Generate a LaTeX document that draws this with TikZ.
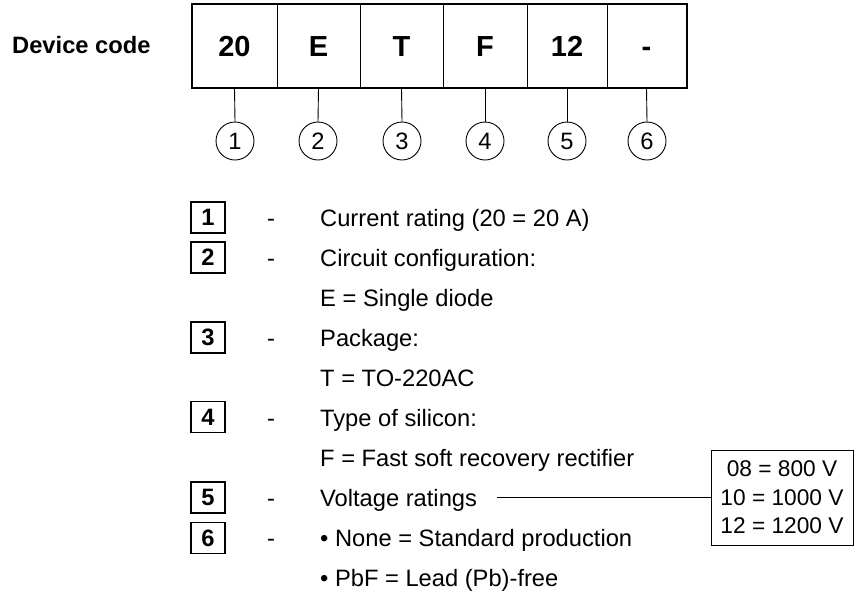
\documentclass[tikz,border=0pt]{standalone}
\usepackage{fontspec}
\setmainfont{Liberation Sans}
\begin{document}
\begin{tikzpicture}[x=1pt,y=-1pt,
  cell/.style={draw,line width=1pt,minimum height=83pt,inner sep=0pt,text height=21pt,text depth=0pt,font=\fontsize{29}{34}\selectfont\bfseries},
  circ/.style={draw,circle,line width=0.9pt,minimum size=38pt,inner sep=0pt,font=\fontsize{23.7}{28}\selectfont},
  numbox/.style={draw,line width=1.7pt,minimum width=34pt,minimum height=31pt,inner sep=0pt,font=\fontsize{23.7}{28}\selectfont\bfseries},
  txt/.style={anchor=base west,inner sep=0pt,font=\fontsize{23.7}{28}\selectfont},
  dashtxt/.style={anchor=base,inner sep=0pt,font=\fontsize{23.7}{28}\selectfont},
  stem/.style={line width=0.9pt}]
\useasboundingbox (0,0) rectangle (867,603);
% device code label
\node[anchor=west,inner sep=0pt,font=\fontsize{23.7}{28}\selectfont\bfseries] (lbl) at (12,45) {Device code};
% cells
\node[cell,minimum width=85pt] (c1) at (234.5,45.5) {20};
\node[cell,minimum width=83pt] (c2) at (318.5,45.5) {E};
\node[cell,minimum width=83pt] (c3) at (401.5,45.5) {T};
\node[cell,minimum width=84pt] (c4) at (485,45.5) {F};
\node[cell,minimum width=80pt] (c5) at (567,45.5) {12};
\node[cell,minimum width=79pt] (c6) at (646.5,45.5) {-};
\draw[line width=2pt] (c1.north west) rectangle (c6.south east);
% circles
\foreach \i/\x in {1/235,2/318,3/402,4/485,5/567,6/647}{
  \node[circ] (n\i) at (\x,141) {\i};
  \draw[stem] (c\i.south) -- (n\i.north);
}
% legend
\node[numbox] (b1) at (208,217.5) {1};
\node[dashtxt] (d1) at (271,226) {-};
\node[txt] (t1) at (320,226) {Current rating (20 = 20 A)};
\node[numbox] (b2) at (208,257.5) {2};
\node[dashtxt] (d2) at (271,266) {-};
\node[txt] (t2) at (320,266) {Circuit configuration:};
\node[txt] (t2b) at (320,306) {E = Single diode};
\node[numbox] (b3) at (208,337.5) {3};
\node[dashtxt] (d3) at (271,346) {-};
\node[txt] (t3) at (320,346) {Package:};
\node[txt] (t3b) at (320,386) {T = TO-220AC};
\node[numbox] (b4) at (208,417) {4};
\node[dashtxt] (d4) at (271,426) {-};
\node[txt] (t4) at (320,426) {Type of silicon:};
\node[txt] (t4b) at (320,466) {F = Fast soft recovery rectifier};
\node[numbox] (b5) at (208,497.5) {5};
\node[dashtxt] (d5) at (271,506) {-};
\node[txt] (vr) at (320,506) {Voltage ratings};
\node[numbox] (b6) at (208,538) {6};
\node[dashtxt] (d6) at (271,546) {-};
\node[txt] (t6) at (320,546) {• None = Standard production};
\node[txt] (t6b) at (320,586) {• PbF = Lead (Pb)-free};
% voltage box
\node[draw,line width=0.9pt,minimum width=142pt,minimum height=95pt,inner sep=0pt,align=center,
  font=\fontsize{22.7}{28.5}\selectfont] (vbox) at (782,497.5) {08 = 800 V\\10 = 1000 V\\12 = 1200 V};
\draw[stem] ([xshift=20pt]vr.east |- vbox.west) -- (vbox.west);
\end{tikzpicture}
\end{document}
